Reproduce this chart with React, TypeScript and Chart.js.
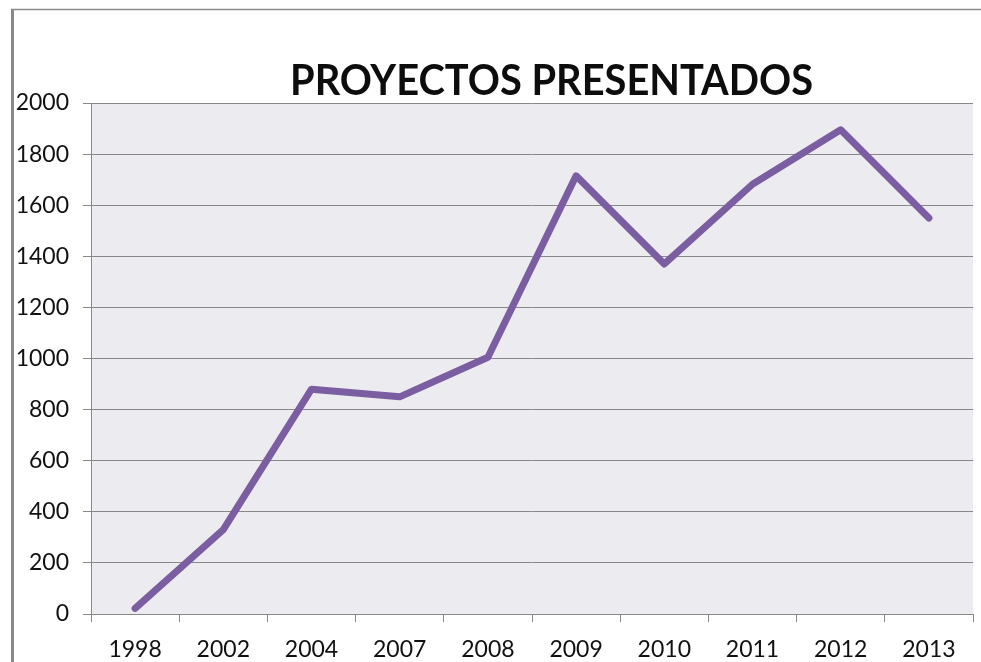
import React, { useEffect, useRef } from "react";
import { Chart, registerables } from "chart.js";

Chart.register(...registerables);

const TITLE = "PROYECTOS PRESENTADOS";
const YEARS = ["1998", "2002", "2004", "2007", "2008", "2009", "2010", "2011", "2012", "2013"];
const PROYECTOS = [22, 330, 880, 850, 1005, 1715, 1370, 1682, 1895, 1550];
const Y_MIN = 0;
const Y_MAX = 2000;
const Y_STEP = 200;

const framePlugin = {
  id: "frameAndBg",
  beforeDraw(chart: any) {
    const { ctx, chartArea } = chart;
    ctx.save();
    ctx.fillStyle = "#ffffff";
    ctx.fillRect(0, 0, chart.width, chart.height);
    ctx.fillStyle = "#ecebf0";
    ctx.fillRect(chartArea.left, chartArea.top, chartArea.right - chartArea.left, chartArea.bottom - chartArea.top);
    // outer frame
    ctx.strokeStyle = "#8a8a8a";
    ctx.lineWidth = 1.5;
    ctx.beginPath();
    ctx.moveTo(11, 9.5);
    ctx.lineTo(chart.width, 9.5);
    ctx.stroke();
    ctx.lineWidth = 3;
    ctx.beginPath();
    ctx.moveTo(12.5, 9);
    ctx.lineTo(12.5, chart.height);
    ctx.stroke();
    // title
    ctx.fillStyle = "#0d0d0d";
    ctx.font = "bold 42px Lato";
    ctx.textAlign = "center";
    ctx.textBaseline = "alphabetic";
    ctx.fillText(TITLE, 551.5, 95, 523);
    ctx.restore();
  },
};

export default function App() {
  const ref = useRef<HTMLCanvasElement>(null);
  useEffect(() => {
    if (!ref.current) return;
    const chart = new Chart(ref.current, {
      type: "line",
      data: {
        labels: YEARS,
        datasets: [
          {
            label: TITLE,
            data: PROYECTOS,
            borderColor: "#7b5ea1",
            backgroundColor: "#7b5ea1",
            borderWidth: 7,
            pointRadius: 0,
            tension: 0,
            borderCapStyle: "round",
            borderJoinStyle: "round",
          },
        ],
      },
      options: {
        responsive: false,
        animation: false,
        layout: { padding: { top: 103, right: 8, left: 0, bottom: 0 } },
        plugins: {
          legend: { display: false },
          title: { display: false },
          tooltip: { enabled: false },
        },
        scales: {
          x: {
            type: "category",
            offset: true,
            grid: {
              offset: true,
              drawOnChartArea: false,
              drawTicks: true,
              tickLength: 8,
              color: "#888888",
            },
            border: { display: true, color: "#888888", width: 1 },
            ticks: {
              color: "#111111",
              font: { family: "Lato", size: 23 },
              padding: 14,
              maxRotation: 0,
              autoSkip: false,
            },
            afterFit: (s: any) => {
              s.height = 48;
            },
          },
          y: {
            min: Y_MIN,
            max: Y_MAX,
            ticks: {
              stepSize: Y_STEP,
              color: "#111111",
              font: { family: "Lato", size: 23 },
              padding: 14,
              callback: (v: any) => String(v),
            },
            grid: {
              color: "#888888",
              lineWidth: 1,
              tickLength: 8,
              drawTicks: true,
            },
            border: { display: true, color: "#888888", width: 1 },
            afterFit: (s: any) => {
              s.width = 91;
            },
          },
        },
      },
      plugins: [framePlugin],
    });
    return () => chart.destroy();
  }, []);
  return (
    <div style={{ position: "absolute", left: 0, top: 0, width: 981, height: 662 }}>
      <canvas ref={ref} width={981} height={662} style={{ display: "block" }} />
    </div>
  );
}
